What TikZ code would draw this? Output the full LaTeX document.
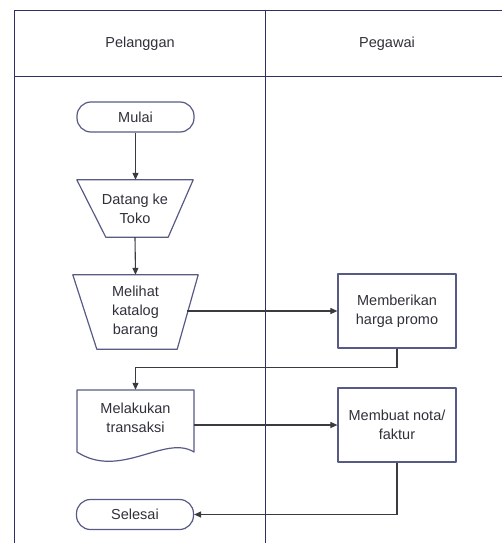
\documentclass[tikz,border=0pt]{standalone}
\usepackage{fontspec}
\setmainfont{Liberation Sans}
\usetikzlibrary{arrows.meta}
\definecolor{frameline}{RGB}{46,48,98}
\definecolor{shapeline}{RGB}{86,90,132}
\definecolor{flowline}{RGB}{58,58,64}
\definecolor{labeltext}{RGB}{48,48,58}

\begin{document}
\begin{tikzpicture}[x=1pt,y=-1pt,
  lane/.style={draw=frameline, line width=1.3pt},
  lanetitle/.style={text=labeltext, font=\fontsize{14.5}{19}\selectfont},
  shapetext/.style={align=center, text=labeltext, inner sep=0pt,
    font=\fontsize{14.5}{19}\selectfont},
  outline/.style={draw=shapeline, line width=1.2pt, line join=round},
  terminal/.style={shapetext, outline, rounded corners=14pt,
    minimum width=117pt, minimum height=30pt},
  process/.style={shapetext, outline, minimum width=118pt, minimum height=74pt},
  hidden/.style={shapetext, draw=none},
  flow/.style={draw=flowline, line width=1.1pt,
    -{Triangle[length=7pt,width=6pt]}},
]
\useasboundingbox (0,0) rectangle (502,543);

% swimlane frame
\draw[lane] (502,10.5) -- (14.5,10.5) -- (14.5,543);
\draw[lane] (14.5,76.5) -- (502,76.5);
\draw[lane] (265.5,10.5) -- (265.5,543);
\node[lanetitle] (pelanggan) at (140,44) {Pelanggan};
\node[lanetitle] (pegawai) at (387,44) {Pegawai};

% customer lane
\node[terminal] (mulai) at (135.5,117) {Mulai};

\node[hidden, minimum width=116pt, minimum height=57pt] (datang) at (135,208.5) {Datang ke\\Toko};
\draw[outline] (datang.north west) -- (datang.north east)
  -- ([xshift=-25pt]datang.south east) -- ([xshift=29pt]datang.south west) -- cycle;

\node[hidden, minimum width=125pt, minimum height=74pt] (katalog) at (135.5,312) {Melihat\\katalog\\barang};
\draw[outline] (katalog.north west) -- (katalog.north east)
  -- ([xshift=-21pt]katalog.south east) -- ([xshift=24pt]katalog.south west) -- cycle;

\node[hidden, minimum width=117pt, minimum height=56pt] (transaksi) at (135.5,418) {Melakukan\\transaksi};
\draw[outline] (77,390) -- (194,390) -- (194,452)
  .. controls (165,434) and (120,480) .. (77,452) -- cycle;

\node[terminal] (selesai) at (135,514.5) {Selesai};

% employee lane
\node[process] (promo) at (397,311) {Memberikan\\harga promo};
\node[process] (nota) at (397,425) {Membuat nota/\\faktur};

% flow
\draw[flow] (mulai) -- (datang.north -| mulai.south);
\draw[flow] (datang.south) -- (katalog.north);
\draw[flow] ([xshift=-11pt]katalog.east |- promo.west) -- (promo.west);
\draw[flow] (promo.south) -- ++(0,19) -| (transaksi.north);
\draw[flow] (transaksi.east |- nota.west) -- (nota.west);
\draw[flow] (nota.south) |- (selesai.east);
\end{tikzpicture}
\end{document}
